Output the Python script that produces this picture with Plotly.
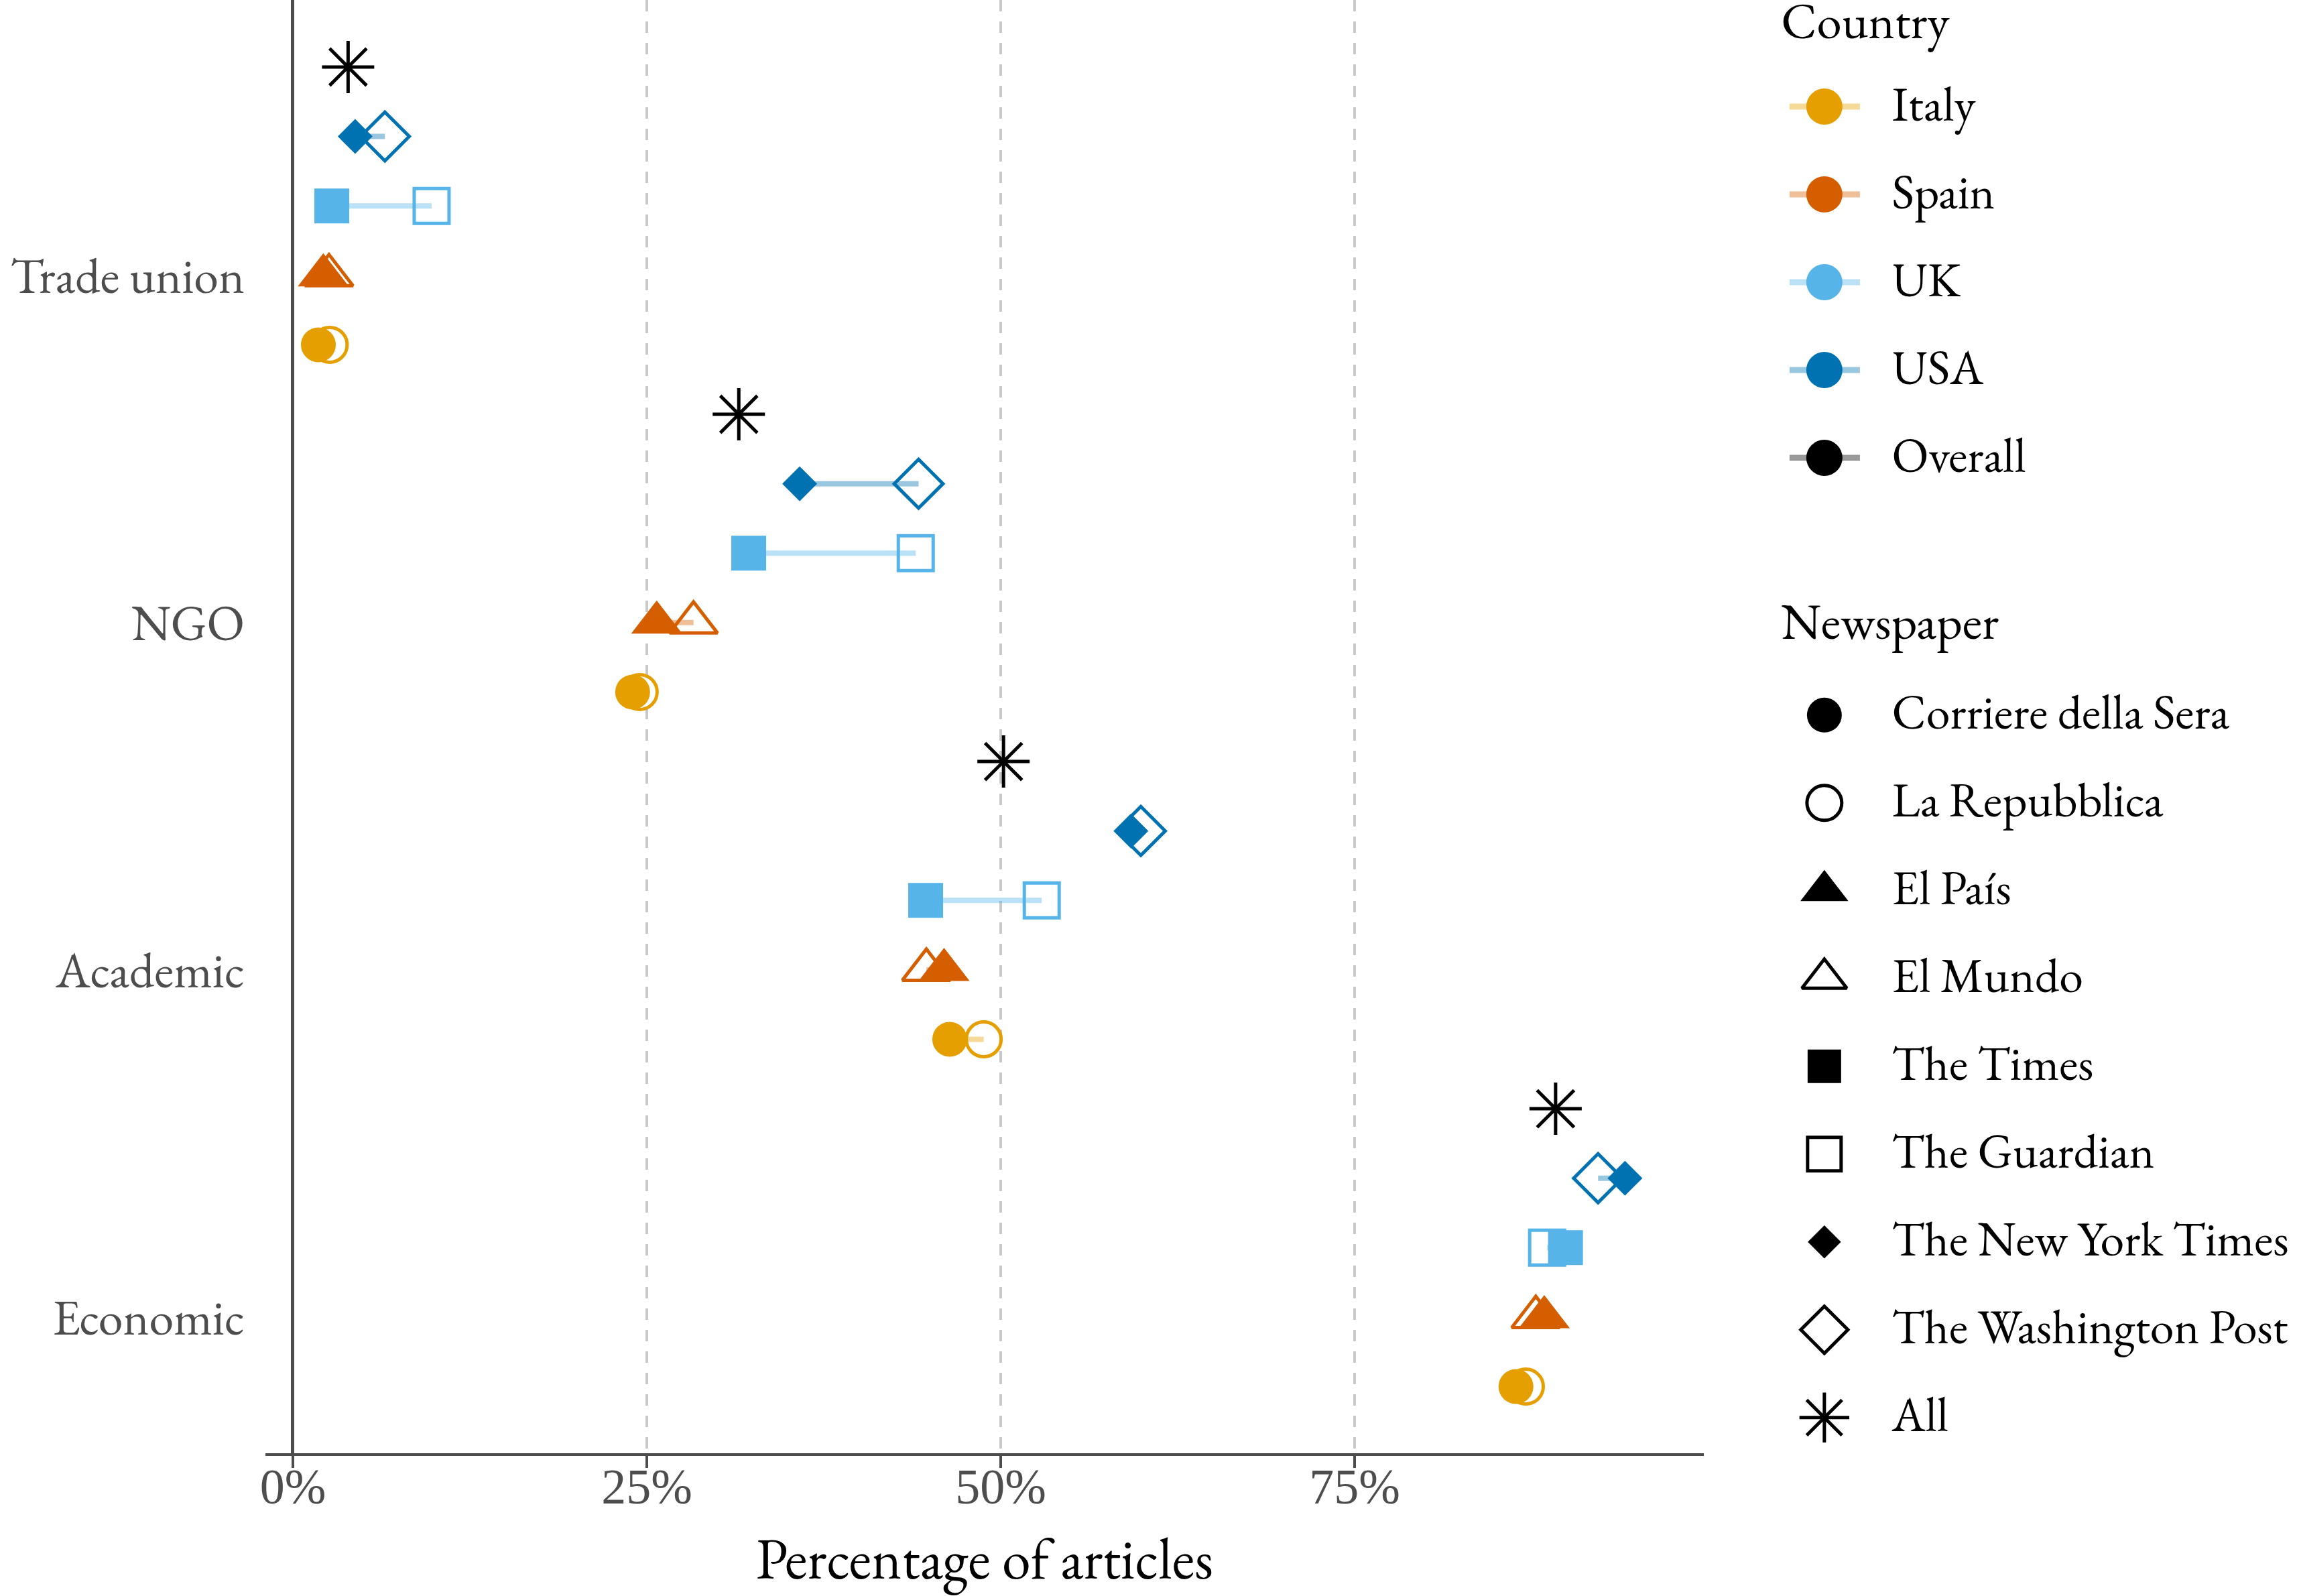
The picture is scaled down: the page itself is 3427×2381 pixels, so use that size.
import plotly.graph_objects as go

# ---------------- data ----------------
categories = ["Trade union", "NGO", "Academic", "Economic"]  # top to bottom
countries = ["Italy", "Spain", "UK", "USA", "Overall"]
country_colors = ["#E69F00", "#D55E00", "#56B4E9", "#0072B2", "#000000"]

newspapers = ["Corriere della Sera", "La Repubblica", "El País", "El Mundo",
              "The Times", "The Guardian", "The New York Times",
              "The Washington Post", "All"]
newspaper_country = ["Italy", "Italy", "Spain", "Spain", "UK", "UK",
                     "USA", "USA", "Overall"]

# percentage of articles, one value per category (order of `categories`)
corriere = [1.8, 24.0, 46.4, 86.4]
repubblica = [2.6, 24.5, 48.8, 87.1]
el_pais = [2.15, 25.7, 46.0, 88.4]
el_mundo = [2.55, 28.3, 44.75, 87.8]
the_times = [2.75, 32.2, 44.7, 89.9]
the_guardian = [9.8, 44.0, 52.9, 88.6]
nyt = [4.4, 35.8, 59.2, 94.1]
wapo = [6.5, 44.2, 59.9, 92.2]
all_papers = [3.9, 31.5, 50.2, 89.2]
values = [corriere, repubblica, el_pais, el_mundo, the_times, the_guardian,
          nyt, wapo, all_papers]

x_ticks = [0, 25, 50, 75]
x_tick_labels = ["0%", "25%", "50%", "75%"]

# ---------------- styling ----------------
FONT = "EB Garamond, Garamond, Liberation Serif, serif"
NUM_FONT = "Liberation Serif, serif"
symbols = ["circle", "circle-open", "triangle-up", "triangle-up-open",
           "square", "square-open", "diamond", "diamond-open", "asterisk-open"]
sizes = [52, 52, 66, 62, 52, 52, 40, 56, 65]
line_widths = [0, 5, 0, 5, 0, 5, 0, 5, 5]
legend_sizes = [52, 52, 62, 58, 50, 50, 38, 54, 62]


def rgba(hex_color, a):
    h = hex_color.lstrip("#")
    r, g, b = int(h[0:2], 16), int(h[2:4], 16), int(h[4:6], 16)
    return f"rgba({r},{g},{b},{a})"


n_cat = len(categories)
cat_pos = [n_cat - i for i in range(n_cat)]          # Trade union on top
country_offset = {c: (i - 1) * 0.2 for i, c in enumerate(countries)}
color_of = dict(zip(countries, country_colors))

fig = go.Figure()

# connecting segments between the two newspapers of a country
for c in countries[:-1]:
    idx = [i for i, nc in enumerate(newspaper_country) if nc == c]
    xs, ys = [], []
    for k in range(n_cat):
        yv = cat_pos[k] + country_offset[c]
        xs += [values[idx[0]][k], values[idx[1]][k], None]
        ys += [yv, yv, None]
    fig.add_trace(go.Scatter(x=xs, y=ys, mode="lines",
                             line=dict(color=rgba(color_of[c], 0.4), width=8),
                             hoverinfo="skip", showlegend=False))

# markers: open first, then filled, then "All"
order = [1, 3, 5, 7, 0, 2, 4, 6, 8]
for i in order:
    c = newspaper_country[i]
    fig.add_trace(go.Scatter(
        x=values[i],
        y=[p + country_offset[c] for p in cat_pos],
        mode="markers", name=newspapers[i],
        marker=dict(symbol=symbols[i], size=sizes[i], color=color_of[c],
                    line=dict(width=line_widths[i], color=color_of[c])),
        showlegend=False))

# ---------------- legends (drawn in a separate axis pair) ----------------
LX_LINE = [0.038, 0.1715]
LX_MARK = 0.104
LX_TEXT = 0.232
LX_TITLE = 0.022
title_rows = [-0.92, 5.92]
country_rows = [float(i) for i in range(len(countries))]
paper_rows = [6.93 + i for i in range(len(newspapers))]
TEXT_DY = 0.02   # small downward nudge so text centres match the symbols

fig.add_trace(go.Scatter(x=[LX_TITLE, LX_TITLE], y=title_rows,
                         text=["Country", "Newspaper"], mode="text",
                         textposition="middle right",
                         textfont=dict(size=75, color="black", family=FONT),
                         xaxis="x2", yaxis="y2", showlegend=False,
                         hoverinfo="skip"))

for c, r in zip(countries, country_rows):
    fig.add_trace(go.Scatter(x=LX_LINE, y=[r, r], mode="lines",
                             line=dict(color=rgba(color_of[c], 0.4), width=9),
                             xaxis="x2", yaxis="y2", showlegend=False,
                             hoverinfo="skip"))
    fig.add_trace(go.Scatter(x=[LX_MARK], y=[r], mode="markers",
                             marker=dict(symbol="circle", size=54,
                                         color=color_of[c]),
                             xaxis="x2", yaxis="y2", showlegend=False,
                             hoverinfo="skip"))

fig.add_trace(go.Scatter(x=[LX_TEXT] * len(countries),
                         y=[r + TEXT_DY for r in country_rows],
                         text=countries, mode="text",
                         textposition="middle right",
                         textfont=dict(size=72, color="black", family=FONT),
                         xaxis="x2", yaxis="y2", showlegend=False,
                         hoverinfo="skip"))

for i, r in enumerate(paper_rows):
    fig.add_trace(go.Scatter(x=[LX_MARK], y=[r], mode="markers",
                             marker=dict(symbol=symbols[i],
                                         size=legend_sizes[i], color="black",
                                         line=dict(width=line_widths[i],
                                                   color="black")),
                             xaxis="x2", yaxis="y2", showlegend=False,
                             hoverinfo="skip"))

fig.add_trace(go.Scatter(x=[LX_TEXT] * len(newspapers),
                         y=[r + TEXT_DY for r in paper_rows],
                         text=newspapers, mode="text",
                         textposition="middle right",
                         textfont=dict(size=72, color="black", family=FONT),
                         xaxis="x2", yaxis="y2", showlegend=False,
                         hoverinfo="skip"))

W, H = 3427, 2381
fig.update_layout(
    width=W, height=H,
    margin=dict(l=0, r=0, t=0, b=0, autoexpand=False),
    paper_bgcolor="white", plot_bgcolor="white",
    showlegend=False,
    font=dict(family=FONT, color="black"),
    xaxis=dict(
        domain=[396 / W, 2542 / W], range=[-1.94, 99.67],
        tickvals=x_ticks, ticktext=x_tick_labels,
        showgrid=True, gridcolor="#C8C8C8", gridwidth=4, griddash="17px,15px",
        zeroline=True, zerolinecolor="#4D4D4D", zerolinewidth=5,
        showline=True, linecolor="#4D4D4D", linewidth=4,
        ticks="outside", ticklen=18, tickwidth=4, tickcolor="#4D4D4D",
        tickfont=dict(size=74, color="#4D4D4D", family=NUM_FONT),
        ticklabelstandoff=-36,
        title=dict(text="Percentage of articles",
                   font=dict(size=86, color="black", family=FONT),
                   standoff=40),
        anchor="y", automargin=False, fixedrange=True),
    yaxis=dict(
        domain=[(H - 2168) / H, 1], range=[0.608, 4.793],
        tickvals=cat_pos, ticktext=categories,
        showgrid=False, zeroline=False, showline=False, ticks="",
        tickfont=dict(size=74, color="#4D4D4D", family=FONT),
        ticklabelstandoff=30, anchor="x", automargin=False, fixedrange=True),
    xaxis2=dict(domain=[2640 / W, 1], range=[0, 1], visible=False,
                anchor="y2", automargin=False, fixedrange=True),
    yaxis2=dict(domain=[0, 1], range=[16.962, -1.214], visible=False,
                anchor="x2", automargin=False, fixedrange=True),
)

fig.write_html("out.html",
               config={"displayModeBar": False, "responsive": False},
               post_script="document.body.style.margin='0px';"
                           "document.body.style.overflow='hidden';")
